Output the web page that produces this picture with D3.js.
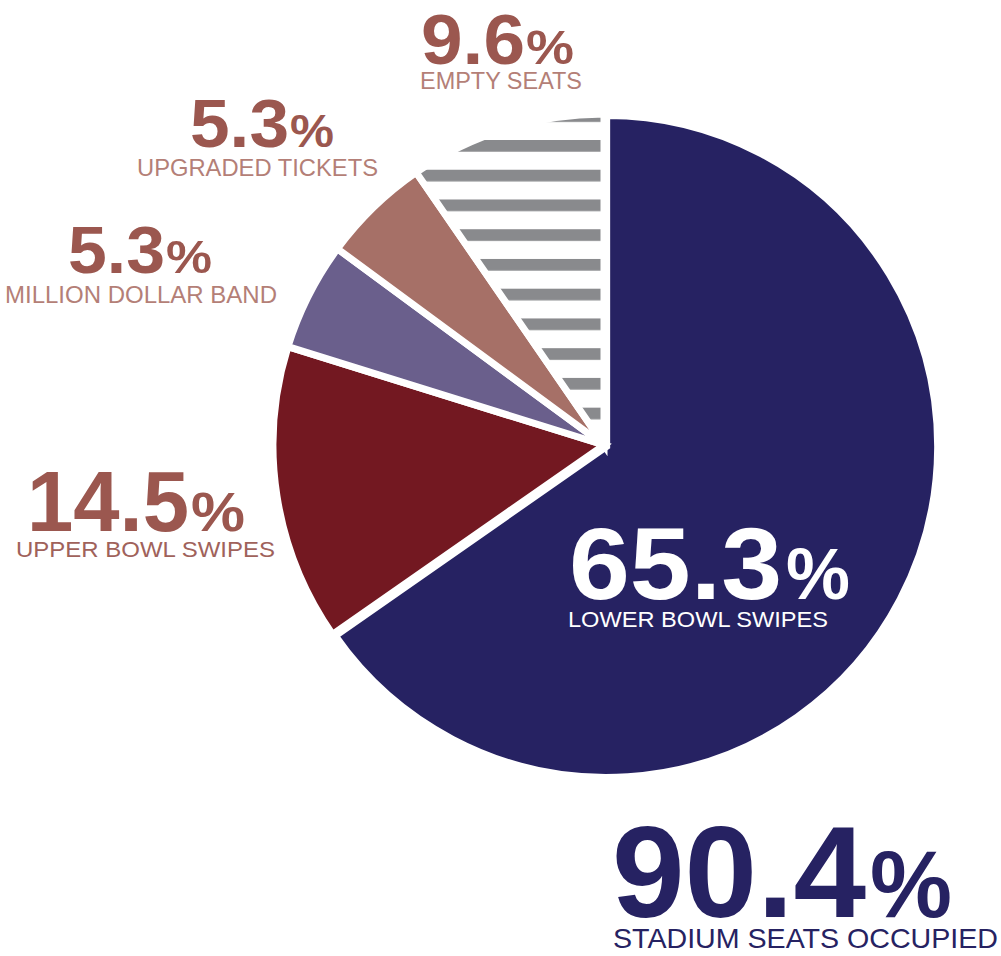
<!DOCTYPE html>
<html>
<head>
<meta charset="utf-8">
<script src="https://cdn.jsdelivr.net/npm/d3@7"></script>
<style>
  html, body { margin: 0; padding: 0; background: #ffffff; }
  svg { display: block; }
  text { font-family: "Liberation Sans", Arial, Helvetica, sans-serif; }
</style>
</head>
<body>
<svg id="chart" width="1001" height="956"></svg>
<script>
// ---- data ----
const categories = ["LOWER BOWL SWIPES", "UPPER BOWL SWIPES", "MILLION DOLLAR BAND", "UPGRADED TICKETS", "EMPTY SEATS"];
const values = [65.3, 14.5, 5.3, 5.3, 9.6];
const totalLabel = "STADIUM SEATS OCCUPIED";
const totalValue = 90.4;

// ---- styles / layout ----
const sliceColors = ["#262262", "#731821", "#6A5F8C", "#A67067", "url(#stripes)"];
const cx = 604, cy = 445, R = 331;

// x/w: number box; px/pw: percent box; y: baseline; s*: subtitle
const labelLayout = [
  { x: 569, w: 213, nfs: 102, px: 786, pw: 64, pfs: 73, y: 599, sx: 568, sy: 627, sfs: 22, sw: 260, nc: "#ffffff", sc: "#ffffff" },
  { x: 27,  w: 162, nfs: 85,  px: 191, pw: 54, pfs: 56, y: 531, sx: 16,  sy: 557, sfs: 22, sw: 259, nc: "#9B574F", sc: "#A0625B" },
  { x: 68,  w: 97,  nfs: 67,  px: 166, pw: 46, pfs: 46, y: 273, sx: 5,   sy: 303, sfs: 24, sw: 272, nc: "#9B574F", sc: "#B47F77" },
  { x: 190, w: 99,  nfs: 68,  px: 290, pw: 44, pfs: 46, y: 147, sx: 137, sy: 176, sfs: 24, sw: 241, nc: "#9B574F", sc: "#B47F77" },
  { x: 421, w: 104, nfs: 70,  px: 526, pw: 48, pfs: 48, y: 64,  sx: 420, sy: 89,  sfs: 23, sw: 162, nc: "#9B574F", sc: "#B47F77" }
];
const totalLayout = { x: 612, w: 254, nfs: 130, px: 870, pw: 82, pfs: 95, y: 917, sx: 613, sy: 948, sfs: 28, sw: 385, nc: "#262262", sc: "#262262" };

const svg = d3.select("#chart");

// stripe pattern for empty seats
const defs = svg.append("defs");
const pat = defs.append("pattern")
  .attr("id", "stripes")
  .attr("patternUnits", "userSpaceOnUse")
  .attr("x", 0).attr("y", -305)
  .attr("width", 10).attr("height", 29.74);
pat.append("rect").attr("x", 0).attr("y", 0).attr("width", 10).attr("height", 11.7).attr("fill", "#898A8D");

const pie = d3.pie().sort(null).value(d => d).startAngle(0).endAngle(2 * Math.PI);
const arc = d3.arc().innerRadius(0).outerRadius(R);
const arcs = pie(values);

const g = svg.append("g").attr("transform", `translate(${cx},${cy})`);
g.selectAll("path.slice")
  .data(arcs)
  .join("path")
  .attr("class", "slice")
  .attr("d", arc)
  .attr("fill", (d, i) => sliceColors[i])
  .attr("stroke", "#ffffff")
  .attr("stroke-width", 7)
  .attr("stroke-linejoin", "miter")
  .attr("transform", (d, i) => {
    if (i !== 0) return null;
    const a = (d.startAngle + d.endAngle) / 2;
    const off = 3;
    return `translate(${off * Math.sin(a)},${-off * Math.cos(a)})`;
  });

function drawLabel(value, name, L) {
  svg.append("text")
    .attr("x", L.x).attr("y", L.y)
    .attr("fill", L.nc)
    .attr("font-weight", "bold")
    .attr("font-size", L.nfs)
    .attr("textLength", L.w)
    .attr("lengthAdjust", "spacingAndGlyphs")
    .text(d3.format(".1f")(value));
  svg.append("text")
    .attr("x", L.px).attr("y", L.y)
    .attr("fill", L.nc)
    .attr("font-weight", "bold")
    .attr("font-size", L.pfs)
    .attr("textLength", L.pw)
    .attr("lengthAdjust", "spacingAndGlyphs")
    .text("%");
  svg.append("text")
    .attr("x", L.sx).attr("y", L.sy)
    .attr("fill", L.sc)
    .attr("font-size", L.sfs)
    .attr("textLength", L.sw)
    .attr("lengthAdjust", "spacingAndGlyphs")
    .text(name);
}

values.forEach((v, i) => drawLabel(v, categories[i], labelLayout[i]));
drawLabel(totalValue, totalLabel, totalLayout);
</script>
</body>
</html>
